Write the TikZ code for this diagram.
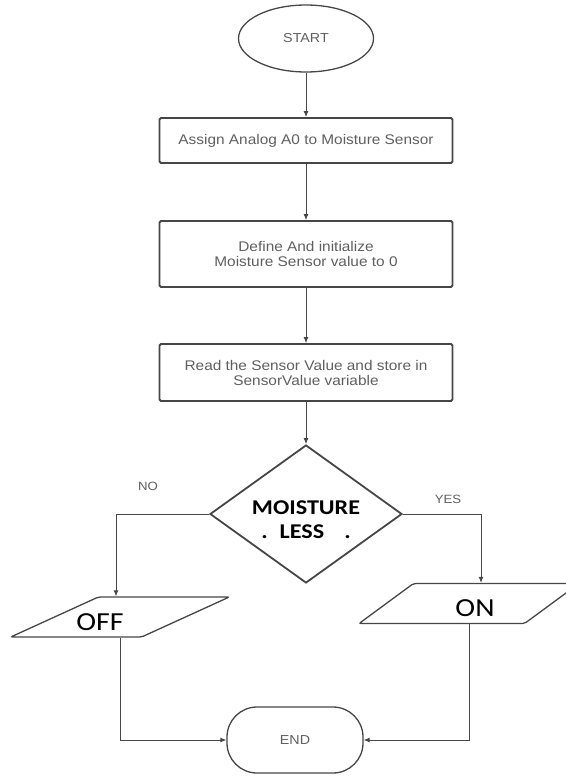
\documentclass[tikz,border=0pt]{standalone}
\usepackage{fontspec}
\newfontfamily\greyfont[FakeStretch=1.1]{Liberation Sans}
\newfontfamily\calfont[FakeStretch=1.15]{Carlito}
\usepackage{tikz}
\usetikzlibrary{positioning,shapes.geometric,arrows.meta}
\definecolor{lincol}{RGB}{70,70,70}
\definecolor{txtcol}{RGB}{95,95,95}
\newcommand{\lowtext}[2]{\raisebox{-#1}[\height][\depth]{#2}}
\tikzset{term/.style={draw=lincol,ellipse,line width=1.3pt,inner sep=0pt,minimum width=135pt,minimum height=67pt,text=txtcol,font=\greyfont\fontsize{13}{15}\selectfont},
  proc/.style={draw=lincol,line width=1.8pt,rounded corners=1.5pt,minimum width=293pt,align=center,text=txtcol,font=\greyfont\fontsize{14}{15}\selectfont},
  cond/.style={draw=lincol,diamond,line width=1.8pt,aspect=1.4,inner sep=0pt,minimum width=192pt,minimum height=138pt,font=\calfont\bfseries\fontsize{21}{24}\selectfont},
  io/.style={draw=lincol,trapezium,trapezium left angle=40,trapezium right angle=140,trapezium stretches=true,line width=1.3pt,rounded corners=2pt,minimum width=220pt,minimum height=40pt,font=\calfont\fontsize{26}{28}\selectfont},
  lbl/.style={text=txtcol,font=\greyfont\fontsize{12}{14}\selectfont},
  conn/.style={draw=lincol,line width=0.9pt,-{Latex[length=6pt,width=5pt]}}}

\begin{document}
\begin{tikzpicture}[x=1pt,y=1pt]
\useasboundingbox (0,0) rectangle (565,-776);
\node[term] (start) at (306,-38.5) {START};
\node[proc,minimum height=45pt] (asg) at (306,-140.5) {Assign Analog A0 to Moisture Sensor};
\node[proc,minimum height=66pt] (ini) at (306,-254) {Define And initialize\\Moisture Sensor value to 0};
\node[proc,minimum height=57pt] (rd) at (306,-372.5) {Read the Sensor Value and store in\\SensorValue variable};
\node[cond] (cmp) at (306,-514) {\lowtext{8pt}{\begin{tabular}{@{}c@{}}MOISTURE\\.\hspace{12pt}LESS\hspace{20pt}.\end{tabular}}};
\node[io] (off) at (120,-617) {\hspace*{-40pt}\lowtext{5pt}{OFF}};
\node[io] (on) at (469,-603.5) {\hspace*{12pt}\lowtext{5pt}{ON}};
\node[term,rectangle,rounded corners=30pt,minimum width=136pt,minimum height=66pt] (fin) at (295,-740) {END};
\node[lbl] (no) at (148,-486) {NO};
\node[lbl] (yes) at (448,-499) {YES};

\draw[conn] (start) -- (asg);
\draw[conn] (asg) -- (ini);
\draw[conn] (ini) -- (rd);
\draw[conn] (rd) -- (cmp);
\draw[conn] (cmp.west) -| ([xshift=-4pt]off.north);
\draw[conn] (cmp.east) -| ([xshift=12pt]on.north);
\draw[conn] (off.south) |- (fin.west);
\draw[conn] (on.south) |- (fin.east);
\end{tikzpicture}
\end{document}
